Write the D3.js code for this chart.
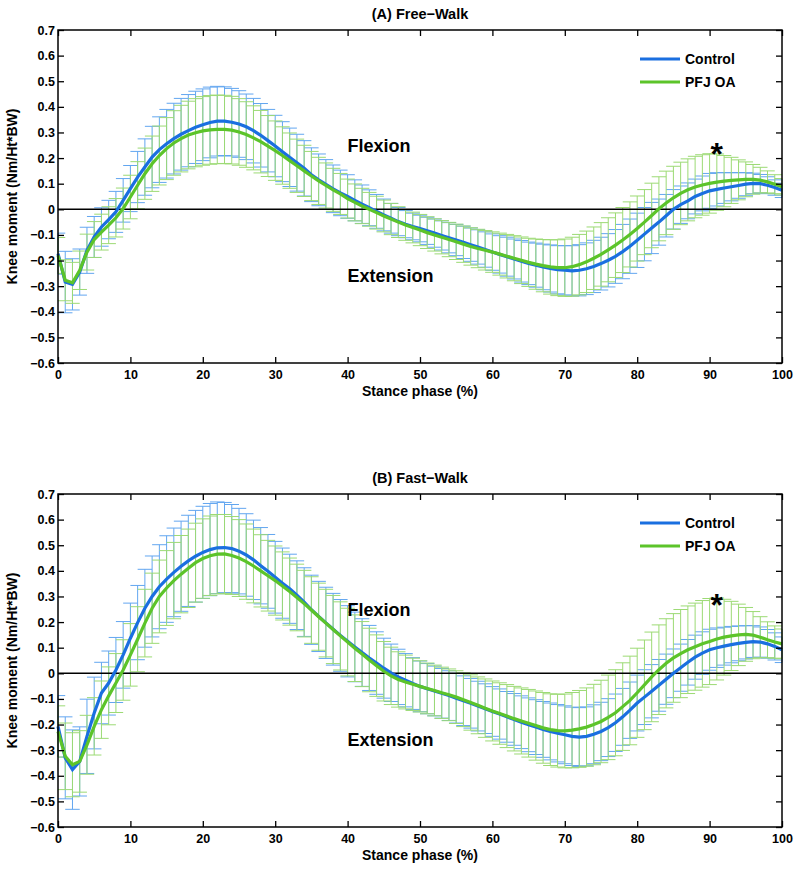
<!DOCTYPE html>
<html><head><meta charset="utf-8">
<script src="https://cdn.jsdelivr.net/npm/d3@7"></script>
<style>body{margin:0;background:#fff}svg{display:block}text{font-family:"Liberation Sans",Arial,Helvetica,sans-serif;font-weight:bold}</style>
</head><body>
<svg id="c" width="800" height="873"></svg>
<script>
// ---- data ----
const xTicks = [0,10,20,30,40,50,60,70,80,90,100];
const yTicks = [-0.6,-0.5,-0.4,-0.3,-0.2,-0.1,0,0.1,0.2,0.3,0.4,0.5,0.6,0.7];
const stancePct = d3.range(0, 101);
const seriesNames = ["Control","PFJ OA"];
const panelTitles = ["(A) Free\u2212Walk","(B) Fast\u2212Walk"];
const starValues = [0.24, 0.29];

const ctlA = [
-0.173,-0.284,-0.293,-0.245,-0.160,-0.108,-0.069,-0.040,-0.010,0.035,
0.081,0.126,0.165,0.204,0.233,0.256,0.276,0.293,0.307,0.320,
0.330,0.339,0.344,0.344,0.340,0.333,0.322,0.307,0.289,0.268,
0.247,0.225,0.203,0.182,0.160,0.135,0.115,0.097,0.080,0.064,
0.050,0.035,0.020,0.006,-0.008,-0.022,-0.035,-0.048,-0.058,-0.067,
-0.075,-0.084,-0.093,-0.102,-0.111,-0.120,-0.129,-0.138,-0.147,-0.157,
-0.167,-0.176,-0.185,-0.194,-0.203,-0.211,-0.218,-0.225,-0.231,-0.236,
-0.238,-0.240,-0.238,-0.232,-0.223,-0.212,-0.199,-0.184,-0.165,-0.144,
-0.121,-0.097,-0.073,-0.050,-0.025,0.000,0.018,0.033,0.050,0.062,
0.072,0.078,0.083,0.088,0.093,0.098,0.101,0.100,0.094,0.085,
0.074];
const pfjA = [
-0.180,-0.277,-0.287,-0.238,-0.167,-0.118,-0.089,-0.062,-0.033,0.003,
0.048,0.094,0.139,0.178,0.210,0.237,0.259,0.276,0.290,0.299,
0.306,0.310,0.312,0.312,0.309,0.302,0.292,0.279,0.264,0.247,
0.229,0.210,0.190,0.170,0.150,0.130,0.111,0.093,0.076,0.060,
0.042,0.027,0.013,0.000,-0.013,-0.026,-0.038,-0.050,-0.061,-0.071,
-0.081,-0.091,-0.100,-0.109,-0.118,-0.127,-0.136,-0.145,-0.153,-0.160,
-0.167,-0.175,-0.183,-0.191,-0.199,-0.207,-0.214,-0.220,-0.225,-0.228,
-0.228,-0.224,-0.216,-0.205,-0.191,-0.176,-0.158,-0.140,-0.120,-0.098,
-0.075,-0.050,-0.024,0.002,0.025,0.045,0.062,0.076,0.087,0.095,
0.101,0.106,0.110,0.113,0.115,0.117,0.117,0.114,0.107,0.098,
0.088];
const sdCtlA = [
0.080,0.120,0.100,0.090,0.090,0.080,0.075,0.075,0.080,0.085,
0.090,0.100,0.110,0.120,0.128,0.134,0.138,0.140,0.141,0.141,
0.140,0.138,0.136,0.134,0.132,0.130,0.128,0.126,0.124,0.122,
0.120,0.117,0.114,0.111,0.108,0.105,0.101,0.097,0.093,0.089,
0.085,0.080,0.075,0.070,0.066,0.062,0.058,0.055,0.053,0.052,
0.052,0.053,0.055,0.057,0.059,0.061,0.063,0.065,0.067,0.069,
0.071,0.073,0.076,0.078,0.081,0.083,0.086,0.089,0.092,0.094,
0.096,0.098,0.100,0.101,0.102,0.103,0.104,0.105,0.106,0.106,
0.106,0.104,0.100,0.090,0.083,0.077,0.073,0.070,0.068,0.068,
0.068,0.065,0.060,0.055,0.050,0.045,0.040,0.036,0.033,0.030,
0.028];
const sdPfjA = [
0.070,0.080,0.080,0.075,0.070,0.070,0.070,0.072,0.075,0.080,
0.085,0.092,0.100,0.108,0.115,0.121,0.126,0.130,0.132,0.133,
0.134,0.134,0.134,0.133,0.132,0.130,0.128,0.125,0.122,0.119,
0.116,0.112,0.108,0.104,0.100,0.096,0.092,0.088,0.084,0.080,
0.076,0.072,0.069,0.066,0.064,0.062,0.061,0.060,0.060,0.060,
0.061,0.062,0.063,0.065,0.067,0.069,0.071,0.073,0.075,0.077,
0.079,0.082,0.085,0.088,0.091,0.094,0.098,0.102,0.106,0.109,
0.112,0.115,0.118,0.120,0.122,0.124,0.125,0.126,0.127,0.127,
0.127,0.127,0.126,0.125,0.124,0.123,0.122,0.121,0.120,0.118,
0.116,0.110,0.100,0.090,0.078,0.068,0.058,0.050,0.043,0.037,
0.032];
const ctlB = [
-0.207,-0.330,-0.376,-0.344,-0.246,-0.155,-0.077,-0.038,0.013,0.072,
0.137,0.198,0.254,0.300,0.338,0.368,0.394,0.418,0.439,0.457,
0.472,0.483,0.490,0.491,0.487,0.477,0.462,0.443,0.420,0.398,
0.375,0.352,0.330,0.305,0.278,0.248,0.222,0.197,0.172,0.148,
0.125,0.103,0.081,0.060,0.040,0.020,0.002,-0.014,-0.027,-0.040,
-0.051,-0.060,-0.069,-0.078,-0.087,-0.097,-0.107,-0.117,-0.128,-0.138,
-0.149,-0.159,-0.170,-0.180,-0.191,-0.201,-0.210,-0.219,-0.227,-0.234,
-0.240,-0.246,-0.249,-0.246,-0.238,-0.227,-0.212,-0.193,-0.170,-0.144,
-0.116,-0.093,-0.070,-0.047,-0.023,0.000,0.022,0.043,0.063,0.079,
0.092,0.100,0.106,0.112,0.117,0.121,0.124,0.122,0.115,0.105,
0.092];
const pfjB = [
-0.227,-0.324,-0.357,-0.344,-0.279,-0.207,-0.142,-0.088,-0.038,0.013,
0.072,0.133,0.196,0.254,0.300,0.333,0.362,0.387,0.410,0.432,
0.448,0.459,0.465,0.466,0.460,0.450,0.436,0.419,0.400,0.381,
0.362,0.341,0.319,0.296,0.272,0.247,0.221,0.196,0.171,0.146,
0.122,0.098,0.075,0.052,0.030,0.008,-0.010,-0.024,-0.034,-0.043,
-0.051,-0.059,-0.067,-0.076,-0.084,-0.093,-0.103,-0.114,-0.125,-0.136,
-0.147,-0.157,-0.167,-0.177,-0.186,-0.195,-0.204,-0.213,-0.220,-0.224,
-0.225,-0.222,-0.217,-0.210,-0.200,-0.188,-0.172,-0.154,-0.130,-0.106,
-0.076,-0.045,-0.014,0.014,0.039,0.060,0.077,0.092,0.104,0.115,
0.124,0.134,0.141,0.146,0.150,0.152,0.149,0.141,0.131,0.122,
0.115];
const sdCtlB = [
0.120,0.160,0.155,0.135,0.145,0.140,0.120,0.125,0.127,0.130,
0.137,0.145,0.152,0.158,0.164,0.169,0.173,0.176,0.178,0.179,
0.180,0.180,0.179,0.176,0.172,0.167,0.161,0.155,0.149,0.144,
0.140,0.137,0.135,0.134,0.134,0.135,0.137,0.139,0.140,0.140,
0.139,0.136,0.132,0.127,0.122,0.117,0.112,0.108,0.104,0.101,
0.099,0.098,0.097,0.097,0.097,0.097,0.097,0.097,0.097,0.097,
0.097,0.098,0.099,0.101,0.103,0.105,0.107,0.109,0.111,0.112,
0.113,0.114,0.115,0.115,0.115,0.114,0.113,0.112,0.111,0.110,
0.109,0.107,0.104,0.101,0.098,0.095,0.092,0.089,0.086,0.083,
0.080,0.077,0.074,0.071,0.068,0.065,0.062,0.059,0.056,0.053,
0.050];
const sdPfjB = [
0.100,0.130,0.125,0.120,0.115,0.112,0.112,0.113,0.115,0.118,
0.122,0.127,0.132,0.137,0.142,0.146,0.149,0.151,0.153,0.154,
0.155,0.155,0.155,0.154,0.152,0.150,0.147,0.144,0.141,0.138,
0.135,0.133,0.131,0.130,0.130,0.130,0.131,0.132,0.133,0.133,
0.132,0.130,0.127,0.124,0.120,0.116,0.112,0.108,0.105,0.102,
0.100,0.099,0.099,0.100,0.101,0.103,0.105,0.108,0.111,0.114,
0.117,0.120,0.123,0.126,0.129,0.132,0.135,0.138,0.140,0.142,
0.144,0.147,0.150,0.153,0.157,0.161,0.165,0.168,0.171,0.173,
0.174,0.175,0.175,0.175,0.174,0.173,0.172,0.171,0.170,0.169,
0.168,0.160,0.148,0.135,0.120,0.105,0.092,0.080,0.070,0.063,
0.058];

// ---- drawing ----
const svg = d3.select("#c");
const L = 58, PW = 724, PH = 333;
const colors = {ctl:"#1a6fe0", pfj:"#5cc42a", ctlBar:"#62a6f0", pfjBar:"#9cda74"};
const panels = [
  {top:30, title:panelTitles[0], ctl:ctlA, pfj:pfjA, sdc:sdCtlA, sdp:sdPfjA, star:starValues[0]},
  {top:494, title:panelTitles[1], ctl:ctlB, pfj:pfjB, sdc:sdCtlB, sdp:sdPfjB, star:starValues[1]}
];
const x = d3.scaleLinear().domain([0,100]).range([0,PW]);
const y = d3.scaleLinear().domain([-0.6,0.7]).range([PH,0]);
const yFmt = d => Math.abs(d) < 1e-9 ? "0" : d3.format(".1f")(d);

panels.forEach(p => {
  const g = svg.append("g").attr("transform", `translate(${L},${p.top})`);

  function errBars(mean, sd, col){
    const eg = g.append("g").attr("stroke", col).attr("stroke-width", 1).attr("fill","none");
    stancePct.forEach((s,i) => {
      const lo = mean[i]-sd[i], hi = mean[i]+sd[i];
      eg.append("line").attr("x1",x(s)).attr("x2",x(s)).attr("y1",y(lo)).attr("y2",y(hi));
      const a = x(Math.max(0,s-1)), b = x(Math.min(100,s+1));
      eg.append("line").attr("x1",a).attr("x2",b).attr("y1",y(lo)).attr("y2",y(lo));
      eg.append("line").attr("x1",a).attr("x2",b).attr("y1",y(hi)).attr("y2",y(hi));
    });
  }
  errBars(p.ctl, p.sdc, colors.ctlBar);
  errBars(p.pfj, p.sdp, colors.pfjBar);

  // zero line
  g.append("line").attr("x1",0).attr("x2",PW).attr("y1",y(0)).attr("y2",y(0))
    .attr("stroke","#000").attr("stroke-width",1.5);

  const line = d3.line().x((d,i)=>x(stancePct[i])).y(d=>y(d)).curve(d3.curveLinear);
  g.append("path").datum(p.ctl).attr("d",line).attr("fill","none").attr("stroke",colors.ctl).attr("stroke-width",3.2);
  g.append("path").datum(p.pfj).attr("d",line).attr("fill","none").attr("stroke",colors.pfj).attr("stroke-width",3.2);

  // axes
  const ax = (sel) => { sel.select(".domain").remove(); sel.selectAll(".tick line").attr("stroke","#000").attr("stroke-width",1.3);
    sel.selectAll("text").attr("font-size",12.5).attr("font-weight","bold").attr("fill","#000"); };
  g.append("g").call(d3.axisLeft(y).tickValues(yTicks).tickFormat(yFmt).tickSizeInner(-6).tickSizeOuter(0).tickPadding(3)).call(ax);
  g.append("g").attr("transform",`translate(${PW},0)`).call(d3.axisRight(y).tickValues(yTicks).tickFormat("").tickSizeInner(-6).tickSizeOuter(0)).call(ax);
  g.append("g").attr("transform",`translate(0,${PH})`).call(d3.axisBottom(x).tickValues(xTicks).tickFormat(d3.format("d")).tickSizeInner(-6).tickSizeOuter(0).tickPadding(7)).call(ax);
  g.append("g").call(d3.axisTop(x).tickValues(xTicks).tickFormat("").tickSizeInner(-6).tickSizeOuter(0)).call(ax);
  g.append("rect").attr("x",0).attr("y",0).attr("width",PW).attr("height",PH)
    .attr("fill","none").attr("stroke","#000").attr("stroke-width",1.5);

  // titles and labels
  svg.append("text").attr("x", L+PW/2).attr("y", p.top-11).attr("text-anchor","middle").attr("font-size",14.5).text(p.title);
  svg.append("text").attr("x", L+PW/2).attr("y", p.top+PH+33).attr("text-anchor","middle").attr("font-size",14).text("Stance phase (%)");
  svg.append("text").attr("transform",`translate(17,${p.top+PH/2}) rotate(-90)`).attr("text-anchor","middle").attr("font-size",14).text("Knee moment (Nm/Ht*BW)");

  g.append("text").attr("x",x(40)).attr("y",y(0.222)).attr("font-size",18).text("Flexion");
  g.append("text").attr("x",x(40)).attr("y",y(-0.283)).attr("font-size",18).text("Extension");
  g.append("text").attr("x",x(91)).attr("y",y(p.star)+17).attr("text-anchor","middle").attr("font-size",32).text("*");

  // legend
  const lg = [[seriesNames[0],colors.ctl,29],[seriesNames[1],colors.pfj,52]];
  lg.forEach(([name,col,dy]) => {
    svg.append("line").attr("x1",640).attr("x2",680).attr("y1",p.top+dy).attr("y2",p.top+dy).attr("stroke",col).attr("stroke-width",3.2);
    svg.append("text").attr("x",685).attr("y",p.top+dy+5).attr("font-size",14).text(name);
  });
});
</script>
</body></html>
